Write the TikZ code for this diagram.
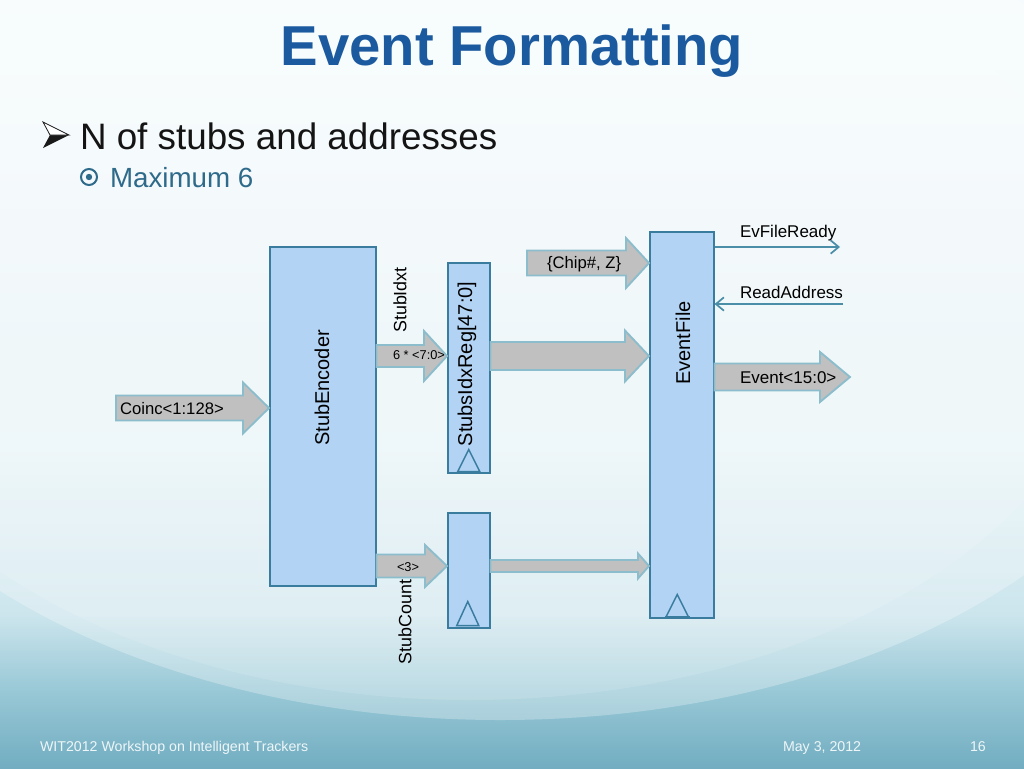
\documentclass[tikz,border=0pt]{standalone}
\usepackage{fontspec}
\usepackage{graphicx}
\setmainfont{Liberation Sans}
\usetikzlibrary{arrows.meta,calc}
\definecolor{boxfill}{HTML}{B2D3F4}
\definecolor{boxline}{HTML}{3A7C9E}
\definecolor{arrfill}{HTML}{C0C0C0}
\definecolor{arrline}{HTML}{8BBDCC}
\definecolor{titleblue}{HTML}{1C5AA0}
\definecolor{subteal}{HTML}{2E6A8A}
\definecolor{sigline}{HTML}{4A8EA8}
\definecolor{bgtop}{HTML}{F6FCFD}
\definecolor{bgmid}{HTML}{E6F3F7}
\definecolor{bglow}{HTML}{CCE5ED}
\definecolor{bgdeep}{HTML}{98C8D6}
\definecolor{bgbot}{HTML}{72ADC1}
\definecolor{foot}{HTML}{EEF6F8}
\pgfdeclareverticalshading{bgshade}{100bp}{color(0bp)=(bgbot); color(25bp)=(bgbot); color(30bp)=(bgdeep); color(35bp)=(bglow); color(46bp)=(bgmid); color(75bp)=(bgtop); color(100bp)=(bgtop)}
\newcommand\blkarrow[6]{%
  \draw[barrow] let \p1=(#1), \p2=(#2), \p3=(0,#3) in
   (\x1,\y3+#4*0.75pt) -- (\x2-#6*0.75pt,\y3+#4*0.75pt) -- (\x2-#6*0.75pt,\y3+#5*0.75pt)
   -- (\x2,\y3) -- (\x2-#6*0.75pt,\y3-#5*0.75pt) -- (\x2-#6*0.75pt,\y3-#4*0.75pt)
   -- (\x1,\y3-#4*0.75pt) -- cycle;}
\begin{document}
\begin{tikzpicture}[x=0.75pt,y=-0.75pt,
  blk/.style={draw=boxline, fill=boxfill, line width=1.15pt, inner sep=0pt, anchor=north west},
  barrow/.style={fill=arrfill, draw=arrline, line width=1.4pt, line join=miter},
  tri/.style={draw=boxline, line width=1.1pt},
  sig/.style={draw=sigline, line width=1.2pt},
  txt/.style={inner sep=0pt, outer sep=0pt},
  boxlbl/.style={txt, rotate=90, font=\fontsize{15}{17}\selectfont},
  sidelbl/.style={txt, rotate=90, font=\fontsize{13.4}{15}\selectfont},
  inlbl/.style={txt, font=\fontsize{12.5}{14}\selectfont},
  outlbl/.style={txt, font=\fontsize{12.75}{14}\selectfont},
  smalllbl/.style={txt, font=\fontsize{9.6}{11}\selectfont},
  footlbl/.style={txt, text=foot, font=\fontsize{10.65}{12}\selectfont, anchor=base west}]
\useasboundingbox (0,0) rectangle (1024,768);
% background
\shade[shading=bgshade] (0,0) rectangle (1024,768);
\fill[white, opacity=0.28] (500,290) ellipse [x radius=700, y radius=430];
\fill[white, opacity=0.12] (470,300) ellipse [x radius=640, y radius=400];

% title and bullets
\node[txt, anchor=base, text=titleblue, font=\fontsize{42.2}{48}\selectfont\bfseries] (title) at (512,65) {Event Formatting};
\fill[black!90] (50,135) -- (69,135) -- (43,148) -- cycle;
\draw[black!90, fill=white, line width=0.6pt, line join=miter] (43,122) -- (69,135) -- (50,135) -- cycle;
\node[txt, anchor=base west, text=black!92, font=\fontsize{27.6}{32}\selectfont] (b1) at (80,149) {N of stubs and addresses};
\draw[subteal, line width=1.5pt] (89,177) circle [radius=8];
\fill[subteal] (89,177) circle [radius=3.2];
\node[txt, anchor=base west, text=subteal, font=\fontsize{20.8}{24}\selectfont] (b2) at (110,187) {Maximum 6};

% boxes
\node[blk, minimum width=106*0.75pt, minimum height=339*0.75pt] (enc) at (269,246) {};
\node[blk, minimum width=42*0.75pt, minimum height=210*0.75pt] (reg) at (447,262) {};
\node[blk, minimum width=42*0.75pt, minimum height=115*0.75pt] (cnt) at (447,512) {};
\node[blk, minimum width=64*0.75pt, minimum height=386*0.75pt] (evf) at (649,231) {};

% clock triangles
\draw[tri] ($(reg.south)+(-11,-2)$) -- ($(reg.south)+(11,-2)$) -- ($(reg.south)+(0,-24)$) -- cycle;
\draw[tri] ($(cnt.south)+(-12,-3)$) -- ($(cnt.south)+(10,-3)$) -- ($(cnt.south)+(-1,-27)$) -- cycle;
\draw[tri] ($(evf.south)+(-16,-1)$) -- ($(evf.south)+(7,-1)$) -- ($(evf.south)+(-4.5,-24)$) -- cycle;
\draw[boxline, line width=2pt] ($(evf.south)+(-17,-1)$) -- ($(evf.south)+(8,-1)$);

% box labels
\node[boxlbl] (encl) at (322,388) {StubEncoder};
\node[boxlbl] (regl) at (467,364) {StubsIdxReg[47:0]};
\node[boxlbl] (evfl) at (683,343) {EventFile};

% free ends
\coordinate (coincL) at (116,408);
\coordinate (chipL) at (527,263);
\coordinate (evR) at (850,377);
\coordinate (rdyR) at (840,247);
\coordinate (rdaR) at (843,304);

% block arrows
\blkarrow{coincL}{enc.west}{408}{12.5}{25.5}{26}
\blkarrow{enc.east}{reg.west}{356}{11}{25}{23}
\blkarrow{reg.east}{evf.west}{356}{14}{25.5}{24}
\blkarrow{chipL}{evf.west}{263}{12.5}{25}{23}
\blkarrow{evf.east}{evR}{377}{13.5}{25}{30}
\blkarrow{enc.east}{cnt.west}{566}{11.5}{21}{22}
\blkarrow{cnt.east}{evf.west}{566}{6}{12.5}{11}

% signal lines
\draw[sig, -{Straight Barb[length=6pt, width=10pt, line width=1.3pt]}] (evf.east |- rdyR) -- (rdyR);
\draw[sig, -{Straight Barb[length=6pt, width=10pt, line width=1.3pt]}] (rdaR) -- (evf.east |- rdaR);

% arrow labels
\node[inlbl, anchor=base west] (coincT) at (120,414) {Coinc<1:128>};
\node[inlbl, anchor=base west] (chipT) at (547,268) {\{Chip\#, Z\}};
\node[outlbl, anchor=base west] (rdyT) at (740,237) {EvFileReady};
\node[outlbl, anchor=base west] (rdaT) at (740,298) {ReadAddress};
\node[outlbl, anchor=base west] (evT) at (740,383) {Event<15:0>};
\node[smalllbl, anchor=base west] (sixT) at (393,359) {6 * <7:0>};
\node[smalllbl, anchor=base west] (threeT) at (397,571) {<3>};
\node[sidelbl] (idxT) at (400,300) {StubIdxt};
\node[sidelbl] (cntT) at (405,622) {StubCount};

% footer
\node[footlbl] (f1) at (40,751) {WIT2012 Workshop on Intelligent Trackers};
\node[footlbl] (f2) at (783,751) {May 3, 2012};
\node[footlbl] (f3) at (970,751) {16};
\end{tikzpicture}
\end{document}
